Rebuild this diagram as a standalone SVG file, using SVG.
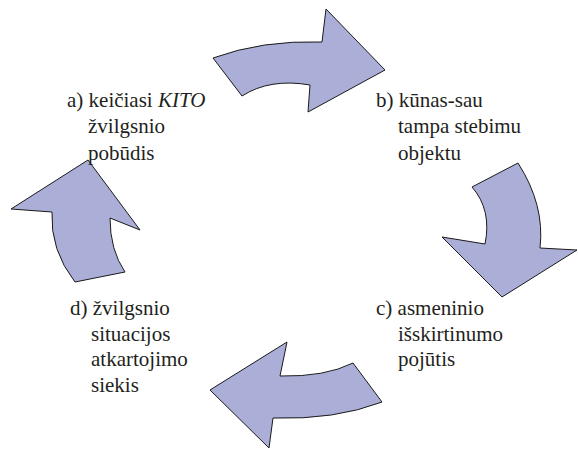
<svg xmlns="http://www.w3.org/2000/svg" width="578" height="450" viewBox="0 0 578 450">
<style>
.arr{fill:#abafd8;stroke:#1a1a1a;stroke-width:1;stroke-linejoin:miter}
.lbl{font-family:'Liberation Serif','Times New Roman',serif;font-size:21px;fill:#231f20}
</style>
<rect width="578" height="450" fill="#fff"/>
<g id="connectors">
<path class="arr" d="M213,58 Q262,40 322,42 L326,9 L385,70 L308,112 L310,85 Q270,78 242,96 Z"/>
<path class="arr" d="M472,187 L518,163 Q545,205 540,248 L577,250 L502,297 L442,237 L485,244 Q492,210 472,187 Z"/>
<path class="arr" d="M353,363 L382,402 Q335,420 273,418 L269,448 L210,390 L287,342 L280,376 Q325,377 353,363 Z"/>
<path class="arr" d="M75,282 L125,272 Q110,250 110,218 L140,230 L88,160 L11,209 L52,212 Q50,250 75,282 Z"/>
</g>
<g id="step-a" class="lbl">
<text x="67" y="107">a) keičiasi <tspan font-style="italic">KITO</tspan></text>
<text x="88" y="133">žvilgsnio</text>
<text x="88" y="160">pobūdis</text>
</g>
<g id="step-b" class="lbl">
<text x="376" y="107">b) kūnas-sau</text>
<text x="398" y="133">tampa stebimu</text>
<text x="398" y="160">objektu</text>
</g>
<g id="step-c" class="lbl">
<text x="376" y="315">c) asmeninio</text>
<text x="398" y="341">išskirtinumo</text>
<text x="398" y="366">pojūtis</text>
</g>
<g id="step-d" class="lbl">
<text x="70" y="315">d) žvilgsnio</text>
<text x="91" y="341">situacijos</text>
<text x="91" y="366">atkartojimo</text>
<text x="91" y="392">siekis</text>
</g>
</svg>
